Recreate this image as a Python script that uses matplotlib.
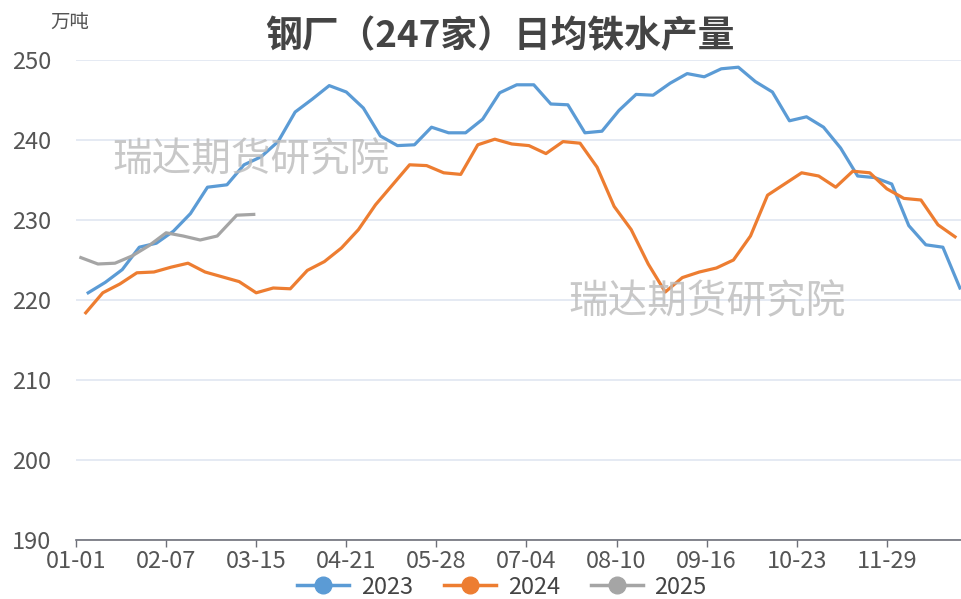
import matplotlib
matplotlib.use("Agg")
import matplotlib.pyplot as plt
import pandas as pd
from matplotlib.lines import Line2D

plt.rcParams['font.family'] = ['Noto Sans CJK SC', 'DejaVu Sans']

# ---- data ----
title = "钢厂（247家）日均铁水产量"
unit = "万吨"
watermark = "瑞达期货研究院"
series_names = ["2023", "2024", "2025"]
first_fridays = ["2023-01-06", "2024-01-05", "2025-01-03"]

v2023 = [220.9, 222.2, 223.8, 226.6, 227.1, 228.6, 230.8, 234.1, 234.4, 236.9,
         237.9, 239.8, 243.5, 245.1, 246.8, 246.0, 244.0, 240.5, 239.3, 239.4,
         241.6, 240.9, 240.9, 242.6, 245.9, 246.9, 246.9, 244.5, 244.4, 240.9,
         241.1, 243.7, 245.7, 245.6, 247.1, 248.3, 247.9, 248.9, 249.1, 247.3,
         246.0, 242.4, 242.9, 241.6, 239.0, 235.5, 235.3, 234.5, 229.3, 226.9,
         226.6, 221.5]
v2024 = [218.4, 220.9, 222.0, 223.4, 223.5, 224.1, 224.6, 223.5, 222.9, 222.3,
         220.9, 221.5, 221.4, 223.7, 224.8, 226.5, 228.8, 231.9, 234.4, 236.9,
         236.8, 235.9, 235.7, 239.4, 240.1, 239.5, 239.3, 238.3, 239.8, 239.6,
         236.6, 231.7, 228.8, 224.5, 221.0, 222.8, 223.5, 224.0, 225.0, 228.0,
         233.1, 234.5, 235.9, 235.5, 234.1, 236.1, 235.9, 233.9, 232.7, 232.5,
         229.4, 227.9]
v2025 = [225.3, 224.5, 224.6, 225.5, 226.8, 228.4, 228.0, 227.5, 228.0, 230.6,
         230.7]
colors = ["#5B9BD5", "#ED7D31", "#A5A5A5"]
xtick_labels = ["01-01", "02-07", "03-15", "04-21", "05-28", "07-04",
                "08-10", "09-16", "10-23", "11-29"]
yticks = [190, 200, 210, 220, 230, 240, 250]


def day_index(ts):
    # position within a leap-year month-day frame
    return (pd.Timestamp(2024, ts.month, ts.day) - pd.Timestamp(2024, 1, 1)).days


W, H = 962, 599
fig = plt.figure(figsize=(W / 100, H / 100), dpi=100)
ax = fig.add_axes([76 / W, 1 - 540 / H, (962 - 76) / W, (540 - 60) / H])

for name, start, vals, c in zip(series_names, first_fridays, [v2023, v2024, v2025], colors):
    dates = pd.date_range(start, periods=len(vals), freq="7D")
    xs = [day_index(d) for d in dates]
    ax.plot(xs, vals, color=c, lw=2.3, solid_joinstyle="round", zorder=3)

ax.set_xlim(0, 886 / 2.435)
ax.set_ylim(190, 250)

tick_pos = [day_index(pd.Timestamp(2024, int(s[:2]), int(s[3:]))) for s in xtick_labels]
ax.set_xticks(tick_pos)
ax.set_xticklabels(xtick_labels)
ax.set_yticks(yticks)
ax.set_yticklabels([str(v) for v in yticks])

ax.tick_params(axis="x", colors="#6E7079", length=5, width=1, labelsize=17,
               labelcolor="#555555", pad=2)
ax.tick_params(axis="y", length=0, labelsize=17, labelcolor="#555555", pad=18)

for s in ["top", "right", "left"]:
    ax.spines[s].set_visible(False)
ax.spines["bottom"].set_color("#6E7079")
ax.spines["bottom"].set_linewidth(1.2)
ax.grid(axis="y", color="#E0E6F1", lw=1.2, zorder=0)
ax.set_axisbelow(True)

fig.text(500 / W, 1 - 37 / H, title, ha="center", va="center", fontsize=26.5,
         fontweight="bold", color="#444444")
fig.text(50 / W, 1 - 22 / H, unit, ha="left", va="center", fontsize=14, color="#555555")

fig.text(251 / W, 1 - 160 / H, watermark, ha="center", va="center", fontsize=28.5,
         color="#BBBBBB", alpha=0.8, zorder=1)
fig.text(707 / W, 1 - 302 / H, watermark, ha="center", va="center", fontsize=28.5,
         color="#BBBBBB", alpha=0.8, zorder=1)

handles = [Line2D([0], [0], color=c, lw=2.5, marker="o", markersize=12) for c in colors]
fig.legend(handles, series_names, loc="center", bbox_to_anchor=(502 / W, 1 - 587 / H),
           ncol=3, frameon=False, fontsize=17, handlelength=2.2, columnspacing=1.3,
           handletextpad=0.5, labelcolor="#444444")

fig.savefig("out.png", dpi=100)
